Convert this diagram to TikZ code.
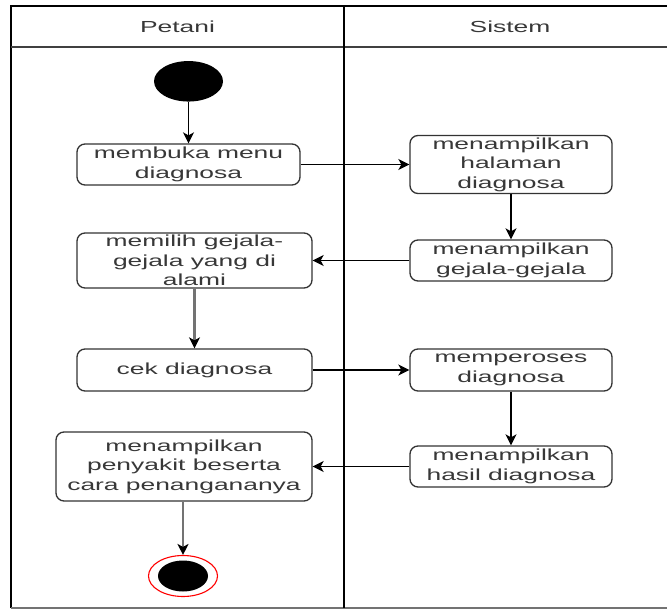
\documentclass[tikz,border=0pt]{standalone}
\usepackage{fontspec}
\setmainfont{Liberation Sans}[FakeStretch=1.65]
\usetikzlibrary{arrows.meta,shapes.geometric}

\tikzset{
  lanetext/.style={font={\fontsize{16pt}{19.5pt}\selectfont}, text=black!78, inner sep=0pt},
  activity/.style={draw=black!80, line width=1.3pt, rounded corners=8pt, fill=white,
    align=center, inner sep=0pt, text=black!78,
    font={\fontsize{16pt}{19.5pt}\selectfont}},
  frameline/.style={draw=black, line width=1.7pt},
  flow/.style={draw=black, line width=1.7pt, -{Stealth[length=11pt,width=11pt,inset=3pt]}},
  greyflow/.style={draw=black!55, line width=2.8pt, -{Stealth[length=11pt,width=11pt,inset=3pt,color=black]}},
}

\begin{document}
\begin{tikzpicture}[x=1pt, y=-1pt]
\useasboundingbox (0,0) rectangle (667,610);

% swimlane frame (continues past the right edge)
\draw[frameline] (11,608) -- (11,6) -- (690,6);
\draw[frameline, draw=black!75, line width=2pt] (11,47.5) -- (690,47.5);
\draw[frameline, draw=black!55, line width=2pt] (11,608) -- (690,608);
\draw[frameline] (344,6) -- (344,608);

% lane headers
\node[lanetext] (petani) at (177.5,27) {Petani};
\node[lanetext] (sistem) at (510,27) {Sistem};

% start and end states
\node[draw=none, fill=black, ellipse, minimum width=69pt, minimum height=40.5pt, inner sep=0pt] (start) at (188.5,81.3) {};
\node[draw=red, line width=1.1pt, fill=white, ellipse, minimum width=69pt, minimum height=41pt, inner sep=0pt] (finish) at (183,576) {};
\node[fill=black, ellipse, minimum width=50pt, minimum height=31pt, inner sep=0pt] (finishdot) at (183,576) {};

% actions of Petani
\node[activity, minimum width=223pt, minimum height=41pt] (menu) at (188.5,164.5) {membuka menu\\diagnosa};
\node[activity, minimum width=235pt, minimum height=55pt] (pilih) at (194.5,260.5) {memilih gejala-\\gejala yang di\\alami};
\node[activity, minimum width=235pt, minimum height=42pt] (cek) at (194.5,370) {cek diagnosa};
\node[activity, minimum width=256pt, minimum height=69pt] (penyakit) at (184,466.5) {menampilkan\\penyakit beserta\\cara penangananya};

% actions of Sistem
\node[activity, minimum width=202pt, minimum height=58pt] (halaman) at (511,164.5) {menampilkan\\halaman\\diagnosa};
\node[activity, minimum width=202pt, minimum height=41pt] (gejala) at (511,260.5) {menampilkan\\gejala-gejala};
\node[activity, minimum width=202pt, minimum height=42pt] (proses) at (511,370) {memperoses\\diagnosa};
\node[activity, minimum width=202pt, minimum height=41pt] (hasil) at (511,466.5) {menampilkan\\hasil diagnosa};

% control flow
\draw[flow] (start) -- (menu);
\draw[flow] (menu) -- (halaman);
\draw[flow] (halaman) -- (gejala);
\draw[flow] (gejala) -- (pilih);
\draw[greyflow] (pilih) -- (cek);
\draw[flow] (cek) -- (proses);
\draw[flow] (proses) -- (hasil);
\draw[flow] (hasil) -- (penyakit);
\draw[greyflow] (penyakit.south -| finish) -- (finish);
\end{tikzpicture}
\end{document}
